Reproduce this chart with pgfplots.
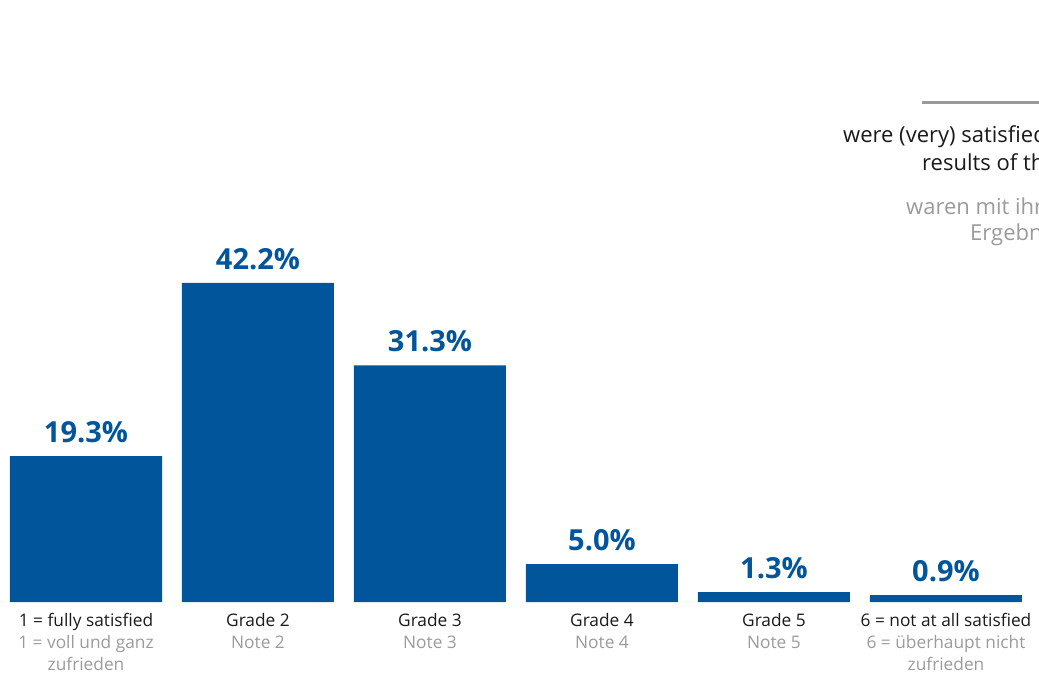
\documentclass[border=0pt]{standalone}
\usepackage{fontspec}
\setmainfont{Open Sans}
\usepackage{pgfplots}
\pgfplotsset{compat=1.18}
\definecolor{barblue}{HTML}{00559B}
\definecolor{txtgray}{HTML}{9B9B9B}
\definecolor{txtdark}{HTML}{1A1A1A}
\definecolor{rulegray}{HTML}{999999}

\begin{document}
\begin{tikzpicture}[x=1pt,y=1pt]
\path[use as bounding box] (0,0) rectangle (1039,673);
\clip (0,0) rectangle (1039,673);
\begin{axis}[
    at={(0pt,71pt)}, anchor=south west,
    scale only axis, width=1032pt, height=378pt,
    xmin=-0.5, xmax=5.5, ymin=0, ymax=50,
    ybar, bar width=152pt, bar shift=0pt,
    hide y axis, axis x line*=bottom, x axis line style={draw=none},
    major tick length=0pt,
    xtick={0,...,5},
    xticklabels={
        {\color{txtdark}1 = fully satisfied\\\color{txtgray}1 = voll und ganz\\\color{txtgray}zufrieden},
        {\color{txtdark}Grade 2\\\color{txtgray}Note 2},
        {\color{txtdark}Grade 3\\\color{txtgray}Note 3},
        {\color{txtdark}Grade 4\\\color{txtgray}Note 4},
        {\color{txtdark}Grade 5\\\color{txtgray}Note 5},
        {\color{txtdark}6 = not at all satisfied\\\color{txtgray}6 = überhaupt nicht\\\color{txtgray}zufrieden}},
    xticklabel style={align=center, font=\fontsize{17.3}{22}\selectfont, inner sep=0pt, anchor=north, yshift=-11pt},
    /pgf/number format/assume math mode=true,
    nodes near coords={\pgfmathprintnumber[fixed,fixed zerofill,precision=1]{\pgfplotspointmeta}\%},
    nodes near coords style={font=\fontsize{29}{34}\selectfont\bfseries, text=barblue, anchor=south, inner sep=0pt, yshift=13pt},
]
% share of respondents per grade
\addplot[fill=barblue, draw=none] coordinates {(0,19.3) (1,42.2) (2,31.3) (3,5.0) (4,1.3) (5,0.9)};
\end{axis}
% summary text, cut off at the right edge
\draw[rulegray, line width=3pt] (922,570) -- (1045,570);
\node[anchor=base west, inner sep=0pt, font=\fontsize{22}{27}\selectfont, text=txtdark] at (843,530) {were (very) satisfied with the};
\node[anchor=base west, inner sep=0pt, font=\fontsize{22}{27}\selectfont, text=txtdark] at (922,502) {results of the survey};
\node[anchor=base west, inner sep=0pt, font=\fontsize{22}{27}\selectfont, text=txtgray] at (906,458) {waren mit ihren};
\node[anchor=base west, inner sep=0pt, font=\fontsize{22}{27}\selectfont, text=txtgray] at (970,432) {Ergebnissen zufrieden};
\end{tikzpicture}
\end{document}
